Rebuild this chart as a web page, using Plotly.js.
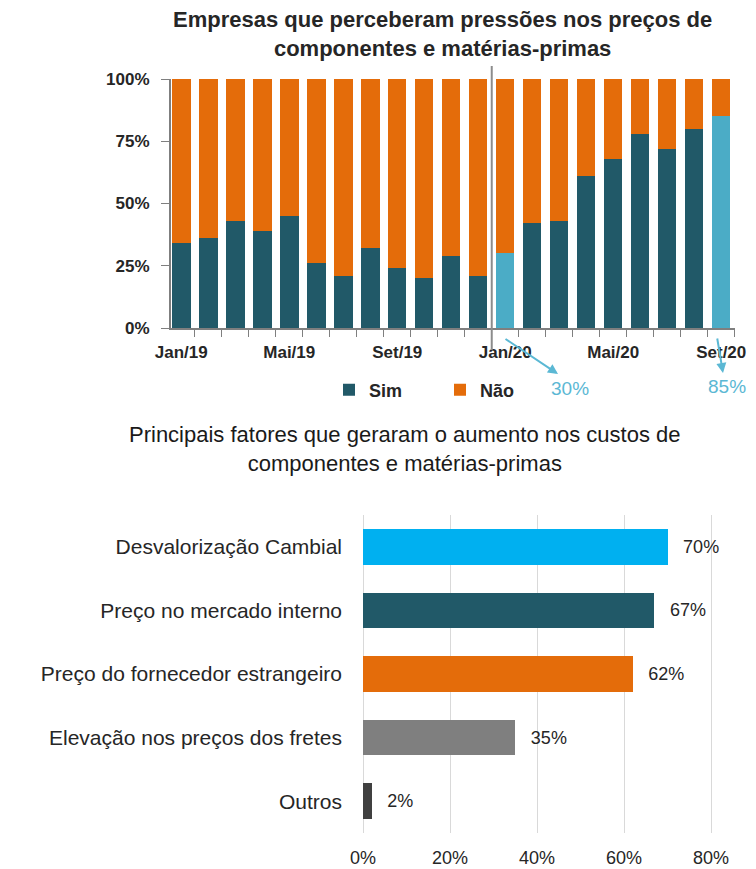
<!DOCTYPE html>
<html>
<head>
<meta charset="utf-8">
<script src="https://cdn.plot.ly/plotly-3.0.1.min.js"></script>
<style>
  html, body { margin: 0; padding: 0; background: #fff; }
  #chart { width: 756px; height: 869px; }
</style>
</head>
<body>
<div id="chart"></div>
<script>
var months = ['Jan/19', 'Fev/19', 'Mar/19', 'Abr/19', 'Mai/19', 'Jun/19', 'Jul/19',
              'Ago/19', 'Set/19', 'Out/19', 'Nov/19', 'Dez/19', 'Jan/20', 'Fev/20',
              'Mar/20', 'Abr/20', 'Mai/20', 'Jun/20', 'Jul/20', 'Ago/20', 'Set/20'];
var sim = [34, 36, 43, 39, 45, 26, 21, 32, 24, 20, 29, 21, 30, 42, 43, 61, 68, 78, 72, 80, 85];
var nao = [66, 64, 57, 61, 55, 74, 79, 68, 76, 80, 71, 79, 70, 58, 57, 39, 32, 22, 28, 20, 15];
var highlighted = ['Jan/20', 'Set/20'];
var pctTicks = [0, 25, 50, 75, 100];

var fatores = ['Desvalorização Cambial', 'Preço no mercado interno',
               'Preço do fornecedor estrangeiro', 'Elevação nos preços dos fretes', 'Outros'];
var fatoresPct = [70, 67, 62, 35, 2];
var fatoresCores = ['#00b0f0', '#215968', '#e46c0a', '#7f7f7f', '#404040'];
var fatoresTicks = [0, 20, 40, 60, 80];

var FONT = 'Liberation Sans, Arial, sans-serif';
var W = 756, H = 869;
function px(x) { return x / W; }
function py(y) { return 1 - y / H; }
function pct(v) { return v + '%'; }

var simColors = months.map(function (m) {
    return highlighted.indexOf(m) >= 0 ? '#4bacc6' : '#215968';
});

var trSim = {
    type: 'bar', x: months, y: sim, name: 'Sim', width: 0.685,
    marker: { color: simColors },
    xaxis: 'x', yaxis: 'y'
};
var trNao = {
    type: 'bar', x: months, y: nao, name: 'Não', width: 0.685,
    marker: { color: '#e46c0a' },
    xaxis: 'x', yaxis: 'y'
};
var trFat = {
    type: 'bar', orientation: 'h', y: fatores, x: fatoresPct, width: 0.56,
    marker: { color: fatoresCores },
    texttemplate: '\u2002\u2009%{x}%', textposition: 'outside', cliponaxis: false,
    textfont: { family: FONT, size: 18, color: '#262626' },
    xaxis: 'x2', yaxis: 'y2', showlegend: false
};

var labelled = months.map(function (m, i) { return i % 4 === 0 ? m : ''; });
var blue = '#5bb8d4';

function note(x, y, text, font) {
    return { xref: 'paper', yref: 'paper', x: px(x), y: py(y), xanchor: 'center',
             yanchor: 'middle', showarrow: false, text: text, font: font };
}
function arrow(x, y, ax, ay) {
    return { xref: 'paper', yref: 'paper', x: px(x), y: py(y), text: '',
             showarrow: true, arrowhead: 2, arrowsize: 1, arrowwidth: 2,
             arrowcolor: blue, ax: ax, ay: ay, standoff: 0 };
}

var layout = {
    width: W, height: H,
    margin: { l: 0, r: 0, t: 0, b: 0 },
    paper_bgcolor: '#fff', plot_bgcolor: 'rgba(0,0,0,0)',
    barmode: 'stack',
    font: { family: FONT, size: 16, color: '#262626' },
    xaxis: {
        domain: [px(171), px(735)], anchor: 'y',
        type: 'category', range: [-0.38, 20.51],
        tickmode: 'array', tickvals: months, ticktext: labelled, tickangle: 0,
        tickson: 'boundaries', ticks: 'outside', ticklen: 7, tickcolor: '#7f7f7f',
        ticklabelstandoff: 8,
        showline: true, linecolor: '#7f7f7f', linewidth: 2,
        showgrid: false, fixedrange: true,
        tickfont: { family: FONT, size: 17, weight: 'bold', color: '#262626' }
    },
    yaxis: {
        domain: [py(328), py(79)], anchor: 'x',
        range: [0, 100], tickmode: 'array', tickvals: pctTicks, ticktext: pctTicks.map(pct),
        ticks: 'outside', ticklen: 8, tickcolor: '#7f7f7f', ticklabelstandoff: 8,
        showline: true, linecolor: '#7f7f7f', linewidth: 2,
        showgrid: false, zeroline: false, fixedrange: true,
        tickfont: { family: FONT, size: 17, weight: 'bold', color: '#262626' }
    },
    xaxis2: {
        domain: [px(363), px(732.75)], anchor: 'y2',
        range: [0, 85], tickmode: 'array', tickvals: fatoresTicks, ticktext: fatoresTicks.map(pct),
        showgrid: true, gridcolor: '#d9d9d9', gridwidth: 1,
        zeroline: true, zerolinecolor: '#d9d9d9', zerolinewidth: 1,
        showline: false, ticks: '', ticklabelstandoff: 12, fixedrange: true,
        tickfont: { family: FONT, size: 18, color: '#262626' }
    },
    yaxis2: {
        domain: [py(833), py(515)], anchor: 'x2',
        type: 'category', range: [4.5, -0.5],
        showgrid: false, zeroline: false, showline: false, ticks: '',
        ticklabelstandoff: 20, fixedrange: true,
        tickfont: { family: FONT, size: 21, color: '#262626' }
    },
    showlegend: true,
    legend: {
        orientation: 'h', x: px(440), xanchor: 'center', y: py(390), yanchor: 'middle',
        entrywidth: 66, traceorder: 'normal',
        font: { family: FONT, size: 18, weight: 'bold', color: '#262626' }
    },
    shapes: [
        { type: 'line', xref: 'x', yref: 'paper', x0: 11.5, x1: 11.5,
          y0: py(350), y1: py(66), line: { color: '#8c8c8c', width: 2 } }
    ],
    annotations: [
        note(443, 34, 'Empresas que perceberam pressões nos preços de<br>componentes e matérias-primas',
             { family: FONT, size: 22, weight: 'bold', color: '#262626' }),
        note(405, 449, 'Principais fatores que geraram o aumento nos custos de<br>componentes e matérias-primas',
             { family: FONT, size: 22, color: '#1a1a1a' }),
        arrow(558, 374, -54, -36),
        note(570, 388, '30%', { family: FONT, size: 19, color: blue }),
        arrow(723, 373, -6, -36),
        note(727, 386, '85%', { family: FONT, size: 19, color: blue })
    ]
};

Plotly.newPlot('chart', [trSim, trNao, trFat], layout, { displayModeBar: false, staticPlot: true });
</script>
</body>
</html>
